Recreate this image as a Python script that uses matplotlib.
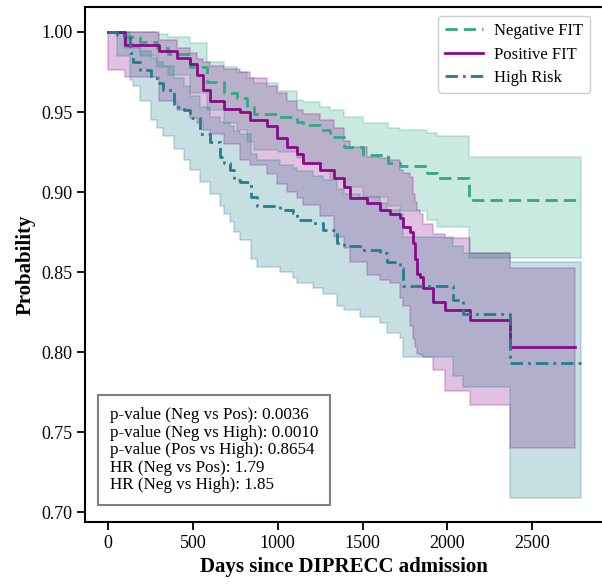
import numpy as np
import matplotlib
matplotlib.use('Agg')
from matplotlib import pyplot as plt

# Kaplan-Meier estimates (days, survival, 95% CI)
neg_t = [0, 90, 190, 290, 350, 480, 585, 680, 760, 820, 860, 1000, 1115, 1150,
         1250, 1310, 1390, 1500, 1650, 1720, 1880, 1940, 2130, 2790]
neg_s = [1.0, 0.997, 0.994, 0.99, 0.986, 0.978, 0.969, 0.962, 0.959, 0.953, 0.949,
         0.947, 0.944, 0.942, 0.939, 0.9345, 0.928, 0.923, 0.918, 0.916, 0.912,
         0.909, 0.895, 0.895]
neg_hi = [1.0, 1.0, 1.0, 0.999, 0.997, 0.993, 0.981, 0.978, 0.975, 0.971, 0.968,
          0.963, 0.9575, 0.956, 0.953, 0.951, 0.947, 0.943, 0.94, 0.939, 0.937,
          0.935, 0.922, 0.922]
neg_lo = [1.0, 0.99, 0.985, 0.978, 0.973, 0.962, 0.951, 0.943, 0.939, 0.931, 0.926,
          0.925, 0.921, 0.918, 0.913, 0.908, 0.903, 0.897, 0.891, 0.888, 0.8825,
          0.878, 0.859, 0.859]

pos_t = [0, 100, 300, 405, 485, 525, 560, 600, 680, 780, 837, 937, 996, 1055, 1114,
         1150, 1250, 1330, 1390, 1427, 1527, 1604, 1663, 1722, 1740, 1781, 1800,
         1810, 1822, 1840, 1858, 1917, 1987, 2134, 2370, 2755]
pos_s = [1.0, 0.992, 0.988, 0.984, 0.98, 0.973, 0.964, 0.957, 0.952, 0.95, 0.945,
         0.941, 0.934, 0.928, 0.924, 0.918, 0.914, 0.909, 0.903, 0.896, 0.893,
         0.889, 0.886, 0.884, 0.878, 0.875, 0.868, 0.858, 0.849, 0.847, 0.84,
         0.831, 0.826, 0.82, 0.803, 0.803]
pos_hi = [1.0, 1.0, 0.995, 0.99, 0.987, 0.983, 0.981, 0.979, 0.977, 0.975, 0.971,
          0.966, 0.962, 0.957, 0.951, 0.949, 0.945, 0.94, 0.932, 0.928, 0.922,
          0.921, 0.92, 0.914, 0.912, 0.9095, 0.899, 0.894, 0.889, 0.886, 0.88,
          0.874, 0.871, 0.862, 0.8525, 0.8525]
pos_lo = [0.976, 0.972, 0.957, 0.951, 0.946, 0.943, 0.939, 0.936, 0.93, 0.92,
          0.917, 0.911, 0.905, 0.9, 0.896, 0.892, 0.885, 0.872, 0.865, 0.856,
          0.848, 0.845, 0.843, 0.834, 0.829, 0.816, 0.808, 0.803, 0.799, 0.798,
          0.797, 0.789, 0.776, 0.767, 0.74, 0.74]

high_t = [0, 50, 130, 147, 190, 250, 290, 325, 385, 445, 485, 542, 601, 660, 680,
          719, 740, 778, 840, 878, 1014, 1091, 1114, 1209, 1268, 1350, 1390, 1486,
          1604, 1645, 1722, 1740, 2034, 2093, 2370, 2790]
high_s = [1.0, 0.998, 0.987, 0.981, 0.976, 0.971, 0.968, 0.964, 0.953, 0.951, 0.946,
          0.936, 0.931, 0.922, 0.918, 0.914, 0.9075, 0.906, 0.897, 0.891, 0.889,
          0.887, 0.8825, 0.8805, 0.876, 0.868, 0.866, 0.864, 0.862, 0.856, 0.8525,
          0.841, 0.8325, 0.824, 0.793, 0.793]
high_hi = [1.0, 1.0, 0.993, 0.991, 0.988, 0.984, 0.981, 0.979, 0.971, 0.966, 0.96,
           0.953, 0.947, 0.944, 0.943, 0.941, 0.938, 0.936, 0.924, 0.92, 0.917,
           0.915, 0.913, 0.91, 0.9075, 0.902, 0.899, 0.897, 0.893, 0.889, 0.886,
           0.872, 0.866, 0.862, 0.856, 0.856]
high_lo = [1.0, 0.985, 0.97, 0.966, 0.957, 0.945, 0.94, 0.935, 0.927, 0.92, 0.914,
           0.906, 0.899, 0.891, 0.886, 0.881, 0.875, 0.87, 0.858, 0.853, 0.85,
           0.846, 0.843, 0.84, 0.836, 0.829, 0.826, 0.822, 0.818, 0.812, 0.809,
           0.797, 0.785, 0.778, 0.709, 0.709]

stats_lines = ['p-value (Neg vs Pos): 0.0036',
               'p-value (Neg vs High): 0.0010',
               'p-value (Pos vs High): 0.8654',
               'HR (Neg vs Pos): 1.79',
               'HR (Neg vs High): 1.85']

plt.rcParams['font.family'] = ['Liberation Serif', 'DejaVu Serif']

fig = plt.figure(figsize=(6.02, 5.84), dpi=100)
ax = fig.add_axes([0.141, 0.106, 0.859, 0.882])

groups = [
    ('Negative FIT', neg_t, neg_s, neg_lo, neg_hi, '#2eaa84', (0, (4.4, 2.2))),
    ('Positive FIT', pos_t, pos_s, pos_lo, pos_hi, '#8a0a8a', '-'),
    ('High Risk', high_t, high_s, high_lo, high_hi, '#237d8e', (0, (4.5, 1.8, 1, 1.8))),
]

# bands first, curves on top
for name, t, s, lo, hi, col, ls in groups:
    ax.fill_between(t, lo, hi, step='post', color=col, alpha=0.25, linewidth=1.2)
for name, t, s, lo, hi, col, ls in groups:
    ax.step(t, s, where='post', color=col, linestyle=ls, linewidth=2.0, label=name)

ax.set_xlim(-138, 2913)
ax.set_ylim(0.6938, 1.0156)
ax.set_xticks(np.arange(0, 2501, 500))
ax.set_yticks(np.arange(0.70, 1.001, 0.05))
ax.yaxis.set_major_formatter(plt.FormatStrFormatter('%.2f'))
ax.tick_params(labelsize=13, width=1.3, length=5.5)
for sp in ax.spines.values():
    sp.set_linewidth(1.5)
ax.spines['right'].set_visible(False)

ax.set_xlabel('Days since DIPRECC admission', fontsize=15, fontweight='bold')
ax.set_ylabel('Probability', fontsize=15, fontweight='bold')

leg = ax.legend(loc='upper right', fontsize=12, framealpha=1, handlelength=2.3,
                borderpad=0.4, handletextpad=0.65, labelspacing=0.45,
                bbox_to_anchor=(0.993, 0.998))
leg.get_frame().set_edgecolor('#cccccc')

ax.text(0.048, 0.056, '\n'.join(stats_lines), transform=ax.transAxes, fontsize=12.25,
        va='bottom', ha='left', linespacing=1.13,
        bbox=dict(boxstyle='square,pad=0.7', facecolor='white', edgecolor='#808080',
                  linewidth=1.5))

fig.savefig('out.png', dpi=100)
